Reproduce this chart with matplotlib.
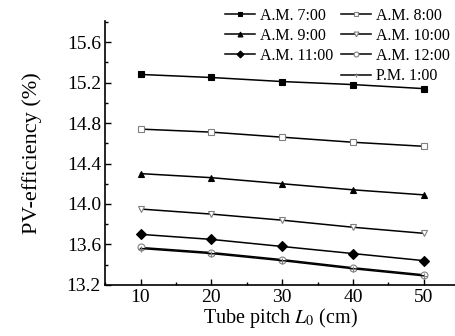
import numpy as np
import matplotlib.pyplot as plt
from matplotlib.ticker import MultipleLocator
from matplotlib.lines import Line2D

plt.rcParams['font.family'] = ['Liberation Serif', 'DejaVu Serif']
plt.rcParams['mathtext.fontset'] = 'stix'

# odczyty z wykresu
pitch = [10, 20, 30, 40, 50]
labels = ['A.M. 7:00', 'A.M. 8:00', 'A.M. 9:00', 'A.M. 10:00',
          'A.M. 11:00', 'A.M. 12:00', 'P.M. 1:00']
am7 = [15.28, 15.25, 15.21, 15.18, 15.14]
am8 = [14.74, 14.71, 14.66, 14.61, 14.57]
am9 = [14.30, 14.26, 14.20, 14.14, 14.09]
am10 = [13.95, 13.90, 13.84, 13.77, 13.71]
am11 = [13.70, 13.65, 13.58, 13.51, 13.44]
am12 = [13.57, 13.52, 13.45, 13.37, 13.30]
pm1 = [13.56, 13.51, 13.44, 13.36, 13.29]

series = [am7, am8, am9, am10, am11, am12, pm1]
markers = ['s', 's', '^', 'v', 'D', 'o', '+']
faces = ['black', 'white', 'black', 'white', 'black', 'white', 'black']
edges = ['black', 'gray', 'black', 'gray', 'black', 'gray', 'gray']

fig = plt.figure(figsize=(4.55, 3.36), dpi=100)
ax = fig.add_axes([0.231, 0.152, 0.769, 0.786])

handles = []
for y, lab, m, fc, ec in zip(series, labels, markers, faces, edges):
    h, = ax.plot(pitch, y, color='black', lw=1.1, marker=m, ms=5,
                 markerfacecolor=fc, markeredgecolor=ec, markeredgewidth=0.8,
                 label=lab)
    handles.append(h)

ax.set_xlim(5, 54.4)
ax.set_ylim(13.2, 15.81)
ax.xaxis.set_major_locator(MultipleLocator(10))
ax.xaxis.set_minor_locator(MultipleLocator(5))
ax.yaxis.set_major_locator(MultipleLocator(0.4))
ax.yaxis.set_minor_locator(MultipleLocator(0.2))
ax.yaxis.set_major_formatter(plt.FormatStrFormatter('%.1f'))
ax.tick_params(which='both', direction='in', labelsize=14, width=1)
ax.tick_params(which='major', length=4, pad=3)
ax.tick_params(which='minor', length=2)
ax.spines['top'].set_visible(False)
ax.spines['right'].set_visible(False)
for sp in ['left', 'bottom']:
    ax.spines[sp].set_linewidth(1.2)

ax.set_xlabel('Tube pitch $L_0$ (cm)', fontsize=14.5, labelpad=0)
ax.set_ylabel('PV-efficiency (%)', fontsize=16, labelpad=18)

# kolejnosc wierszami, pusta pozycja przed P.M. 1:00
blank = Line2D([], [], linestyle='none')
order = [handles[0], handles[2], handles[4], blank,
         handles[1], handles[3], handles[5], handles[6]]
names = [labels[0], labels[2], labels[4], '',
         labels[1], labels[3], labels[5], labels[6]]
fig.legend(order, names, loc='upper left', bbox_to_anchor=(0.462, 1.02),
           ncol=2, frameon=False, fontsize=11.5, handlelength=1.9,
           handletextpad=0.3, columnspacing=0.5, labelspacing=0.26,
           markerscale=0.7)

fig.savefig('out.png', dpi=100)
